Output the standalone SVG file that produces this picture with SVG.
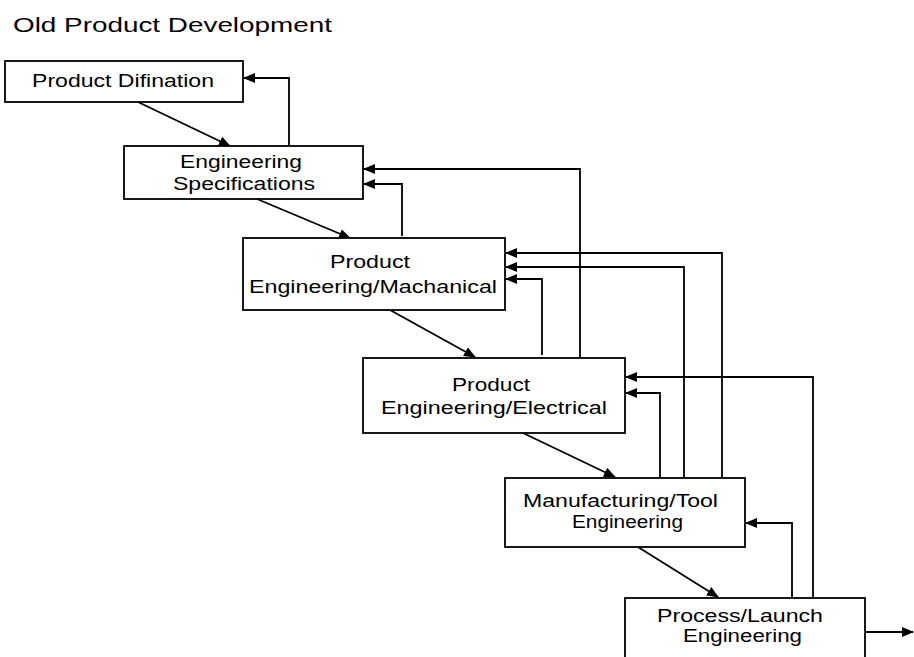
<svg xmlns="http://www.w3.org/2000/svg" width="914" height="657" viewBox="0 0 914 657">
<style>
.box{fill:#fff;stroke:#000;stroke-width:1.8}
.t{font-family:"Liberation Sans",Arial,sans-serif;font-size:17.5px;fill:#000;text-anchor:middle}
.title{font-family:"Liberation Sans",Arial,sans-serif;font-size:20px;fill:#000}
.c{fill:none;stroke:#000;stroke-width:1.8}
</style>
<defs>
<marker id="ah" markerUnits="userSpaceOnUse" markerWidth="12" markerHeight="10" refX="11" refY="5" orient="auto">
<path d="M0,0 L12,5 L0,10 z" fill="#000"/>
</marker>
</defs>
<rect width="914" height="657" fill="#fff"/>
<text class="title" x="13" y="32" textLength="319" lengthAdjust="spacingAndGlyphs">Old Product Development</text>
<g id="connectors">
<path class="c" d="M138,102 L230,146" marker-end="url(#ah)"/>
<path class="c" d="M257,199 L350,238" marker-end="url(#ah)"/>
<path class="c" d="M390,310 L475,357" marker-end="url(#ah)"/>
<path class="c" d="M523,433 L615,477" marker-end="url(#ah)"/>
<path class="c" d="M638,547 L718,597" marker-end="url(#ah)"/>
<path class="c" d="M865,632 L913,632" marker-end="url(#ah)"/>
<path class="c" d="M289,146 V78 H244" marker-end="url(#ah)"/>
<path class="c" d="M580,358 V169 H364" marker-end="url(#ah)"/>
<path class="c" d="M402,236 V184 H364" marker-end="url(#ah)"/>
<path class="c" d="M722,478 V253 H506" marker-end="url(#ah)"/>
<path class="c" d="M684,478 V267 H506" marker-end="url(#ah)"/>
<path class="c" d="M542,355 V279 H506" marker-end="url(#ah)"/>
<path class="c" d="M813,598 V377 H626" marker-end="url(#ah)"/>
<path class="c" d="M660,478 V393 H626" marker-end="url(#ah)"/>
<path class="c" d="M792,598 V523 H746" marker-end="url(#ah)"/>
</g>
<g id="n1">
<rect class="box" x="5" y="61" width="238" height="41"/>
<text class="t" x="123" y="87" textLength="182" lengthAdjust="spacingAndGlyphs">Product Difination</text>
</g>
<g id="n2">
<rect class="box" x="124" y="146" width="239" height="53"/>
<text class="t" x="241" y="168" textLength="122" lengthAdjust="spacingAndGlyphs">Engineering</text>
<text class="t" x="244" y="190" textLength="142" lengthAdjust="spacingAndGlyphs">Specifications</text>
</g>
<g id="n3">
<rect class="box" x="243" y="238" width="262" height="72"/>
<text class="t" x="370" y="268" textLength="80" lengthAdjust="spacingAndGlyphs">Product</text>
<text class="t" x="373" y="293" textLength="248" lengthAdjust="spacingAndGlyphs">Engineering/Machanical</text>
</g>
<g id="n4">
<rect class="box" x="363" y="358" width="262" height="75"/>
<text class="t" x="491" y="391" textLength="78" lengthAdjust="spacingAndGlyphs">Product</text>
<text class="t" x="494" y="414" textLength="226" lengthAdjust="spacingAndGlyphs">Engineering/Electrical</text>
</g>
<g id="n5">
<rect class="box" x="505" y="478" width="240" height="69"/>
<text class="t" x="620.5" y="507" textLength="195" lengthAdjust="spacingAndGlyphs">Manufacturing/Tool</text>
<text class="t" x="627.5" y="528" textLength="111" lengthAdjust="spacingAndGlyphs">Engineering</text>
</g>
<g id="n6">
<rect class="box" x="625" y="598" width="240" height="75"/>
<text class="t" x="740" y="622" textLength="166" lengthAdjust="spacingAndGlyphs">Process/Launch</text>
<text class="t" x="742.5" y="642" textLength="119" lengthAdjust="spacingAndGlyphs">Engineering</text>
</g>
</svg>
